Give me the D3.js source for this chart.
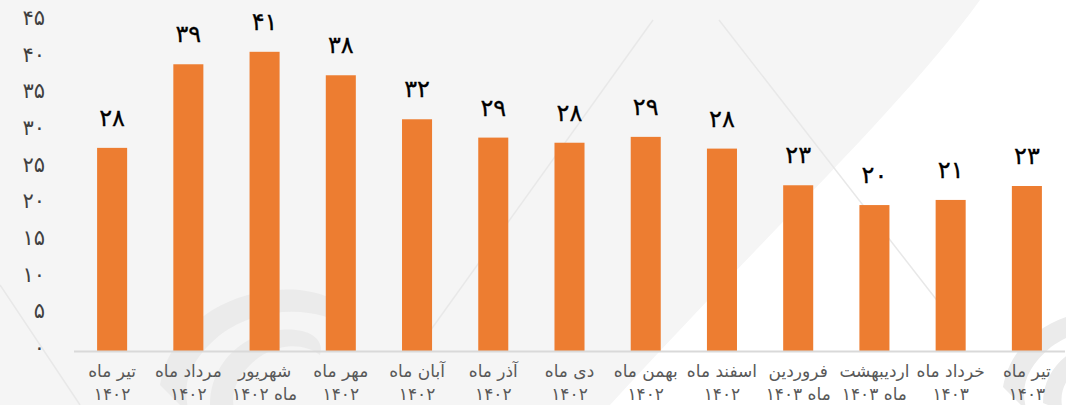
<!DOCTYPE html>
<html>
<head>
<meta charset="utf-8">
<script src="https://cdn.jsdelivr.net/npm/d3@7"></script>
<style>
  body { margin: 0; background: #fff; }
  svg text { font-family: "DejaVu Sans", sans-serif; }
</style>
</head>
<body>
<svg id="chart" width="1066" height="405"></svg>
<script>
// month names (first line) and year line (second line)
const months = ["تیر ماه", "مرداد ماه", "شهریور", "مهر ماه", "آبان ماه", "آذر ماه", "دی ماه",
  "بهمن ماه", "اسفند ماه", "فروردین", "اردیبهشت", "خرداد ماه", "تیر ماه"];
const years = ["۱۴۰۲", "۱۴۰۲", "ماه ۱۴۰۲", "۱۴۰۲", "۱۴۰۲", "۱۴۰۲", "۱۴۰۲",
  "۱۴۰۲", "۱۴۰۲", "ماه ۱۴۰۳", "ماه ۱۴۰۳", "۱۴۰۳", "۱۴۰۳"];
const values = [27.7, 39.1, 40.8, 37.6, 31.6, 29.1, 28.4, 29.2, 27.6, 22.6, 19.9, 20.6, 22.5];
const yTicks = [0, 5, 10, 15, 20, 25, 30, 35, 40, 45];

const fa = s => String(s).replace(/\d/g, d => "۰۱۲۳۴۵۶۷۸۹"[d]);

const svg = d3.select("#chart");
const width = 1066, height = 405;

// background watermark (rough)
const bg = svg.append("g");
bg.append("rect").attr("width", width).attr("height", height).attr("fill", "#ffffff");
bg.append("path")
  .attr("d", "M0,0 H980 C900,110 770,230 610,405 H0 Z")
  .attr("fill", "#f5f5f5");
bg.append("line").attr("x1", 653).attr("y1", 20).attr("x2", 420).attr("y2", 345)
  .attr("stroke", "#e8e8e8").attr("stroke-width", 1.5);
bg.append("line").attr("x1", 719).attr("y1", 20).attr("x2", 960).attr("y2", 330)
  .attr("stroke", "#e8e8e8").attr("stroke-width", 1.5);
bg.append("line").attr("x1", 0).attr("y1", 285).attr("x2", 80).attr("y2", 405)
  .attr("stroke", "#e8e8e8").attr("stroke-width", 1.5);
// swirl logos
[[250, 345, 1], [1075, 355, 0.8]].forEach(([cx, cy, k]) => {
  const g = bg.append("g").attr("transform", `translate(${cx},${cy}) scale(${k})`);
  g.append("path")
    .attr("d", "M-90,40 C-80,-20 -20,-60 50,-55 C90,-50 110,-30 100,-15 C70,-40 10,-40 -30,-10 C-60,15 -70,40 -60,70 Z")
    .attr("fill", "#ebebeb");
  g.append("path")
    .attr("d", "M-40,60 C-40,20 -10,-10 30,-15 C60,-18 75,-5 70,10 C50,-5 20,0 0,20 C-15,35 -20,50 -15,70 Z")
    .attr("fill", "#ebebeb");
});

const x = d3.scaleBand()
  .domain(d3.range(values.length))
  .range([74, 1065])
  .paddingInner(0.606)
  .paddingOuter(0.303);

const y = d3.scaleLinear().domain([0, 45]).range([351, 21]);

// y tick labels
svg.append("g").selectAll("text")
  .data(yTicks)
  .join("text")
  .attr("x", 45)
  .attr("y", d => y(d) - 3)
  .attr("text-anchor", "end")
  .attr("dominant-baseline", "central")
  .attr("font-size", 21)
  .attr("fill", "#404040")
  .text(d => fa(d));

// bars
svg.append("g").selectAll("rect")
  .data(values)
  .join("rect")
  .attr("x", (d, i) => x(i))
  .attr("y", d => y(d))
  .attr("width", x.bandwidth())
  .attr("height", d => y(0) - y(d))
  .attr("fill", "#ED7D31");

// x axis line
svg.append("line")
  .attr("x1", 74).attr("x2", 1065)
  .attr("y1", y(0) + 0.5).attr("y2", y(0) + 0.5)
  .attr("stroke", "#d9d9d9").attr("stroke-width", 2);

// data labels
svg.append("g").selectAll("text")
  .data(values)
  .join("text")
  .attr("x", (d, i) => x(i) + x.bandwidth() / 2)
  .attr("y", d => y(d) - 22)
  .attr("text-anchor", "middle")
  .attr("font-size", 24)
  .attr("fill", "#000")
  .attr("stroke", "#000")
  .attr("stroke-width", 0.3)
  .text(d => fa(Math.round(d)));

// category labels
const cat = svg.append("g").selectAll("g")
  .data(months)
  .join("g")
  .attr("transform", (d, i) => `translate(${x(i) + x.bandwidth() / 2},0)`);
cat.append("text")
  .attr("y", 377)
  .attr("text-anchor", "middle")
  .attr("direction", "rtl")
  .attr("font-size", 17)
  .attr("fill", "#595959")
  .text(d => d);
cat.append("text")
  .attr("y", 400)
  .attr("text-anchor", "middle")
  .attr("direction", "rtl")
  .attr("font-size", 17)
  .attr("fill", "#595959")
  .text((d, i) => years[i]);
</script>
</body>
</html>
